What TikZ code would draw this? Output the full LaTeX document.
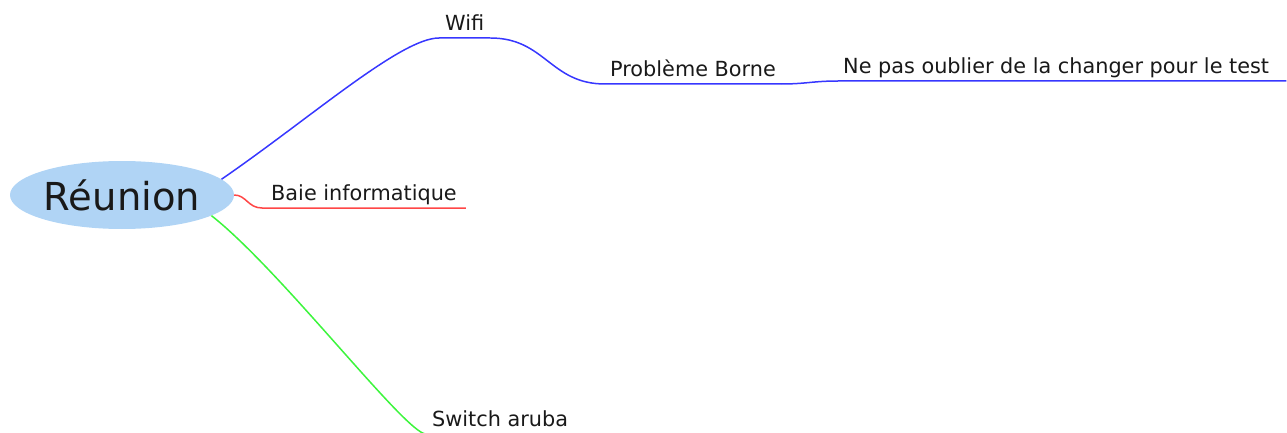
\documentclass[tikz,border=0pt]{standalone}
\usepackage{fontspec}
\setmainfont{DejaVu Sans}
\usepackage{tikz}
\usetikzlibrary{positioning, calc, shapes.geometric}
\definecolor{rootfill}{RGB}{176,212,245}
\definecolor{wifiblue}{RGB}{55,55,255}
\definecolor{baiered}{RGB}{255,70,70}
\definecolor{switchgreen}{RGB}{60,245,60}

\begin{document}
\begin{tikzpicture}[
  x=1pt, y=1pt,
  every node/.style={font=\fontsize{20.8}{25}\selectfont, text=black!90},
  root/.style={ellipse, fill=rootfill, minimum width=224, minimum height=68,
               inner sep=0pt, font=\fontsize{38.5}{44}\selectfont},
  topic/.style={anchor=south west, inner xsep=6pt, inner ysep=3pt,
                text height=15pt, text depth=4pt},
  branch/.style={line width=1.5pt},
]
  \useasboundingbox (0,0) rectangle (1287,432);

  % Central topic
  \node[root] (reunion) at (122,237) {Réunion};

  % Topics
  \node[topic] (wifi) at (439,394) {Wifi};
  \node[topic, inner xsep=5pt] (borne) at (605,348) {Problème Borne};
  \node[topic, inner xsep=5pt] (note) at (838,351)
    {Ne pas oublier de la changer pour le test};
  \node[topic, inner xsep=9pt] (baie) at (262,224) {Baie informatique};
  \node[topic] (switch) at (426,-2) {Switch aruba};

  % Blue branch
  \draw[branch, wifiblue] (reunion.9) .. controls +(90,62) and +(-38,0) .. (wifi.south west)
    -- (wifi.south east);
  \draw[branch, wifiblue] (wifi.south east) .. controls +(55,0) and +(-55,0) .. (borne.south west)
    -- (borne.south east);
  \draw[branch, wifiblue] (borne.south east) .. controls +(25,0) and +(-25,0) .. (note.south west)
    -- ([xshift=12pt]note.south east);

  % Red branch
  \draw[branch, baiered] (reunion.east) .. controls +(12,0) and +(-14,0) .. (baie.south west)
    -- (baie.south east);

  % Green branch
  \draw[branch, switchgreen] (reunion.-13) .. controls +(70,-55) and +(-20,0) .. (switch.south west)
    -- (switch.south east);
\end{tikzpicture}
\end{document}
